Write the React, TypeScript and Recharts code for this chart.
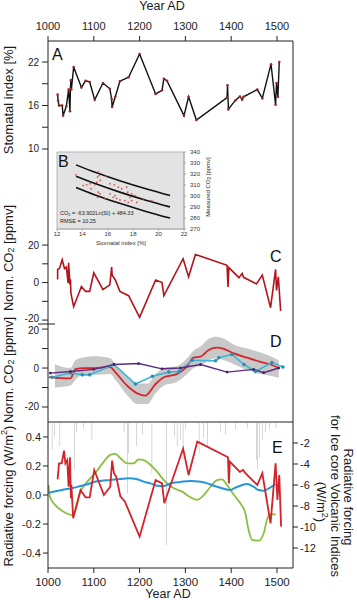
import {
  ComposedChart,
  Line,
  Area,
  Bar,
  Scatter,
  XAxis,
  YAxis,
  ReferenceArea,
} from "recharts";

// ---- shared x axis (years AD)
const YEARS: [number, number] = [1000, 1535];
const yearTicks = [1000, 1100, 1200, 1300, 1400, 1500];

// ---- panel A: stomatal index [%]
const stomatalIndex = [
  { year: 1021, si: 17.5 }, { year: 1022, si: 16.7 }, { year: 1024, si: 16.0 }, { year: 1031, si: 16.0 },
  { year: 1033, si: 14.6 }, { year: 1040, si: 15.9 }, { year: 1045, si: 18.2 }, { year: 1048, si: 15.2 },
  { year: 1049, si: 18.3 }, { year: 1050, si: 19.5 }, { year: 1051, si: 18.2 }, { year: 1056, si: 21.3 },
  { year: 1073, si: 18.5 }, { year: 1082, si: 19.4 }, { year: 1091, si: 19.25 }, { year: 1102, si: 16.8 },
  { year: 1120, si: 19.1 }, { year: 1135, si: 18.3 }, { year: 1139, si: 16.9 }, { year: 1140, si: 15.8 },
  { year: 1147, si: 17.2 }, { year: 1157, si: 19.35 }, { year: 1176, si: 19.9 }, { year: 1200, si: 23.1 },
  { year: 1235, si: 17.6 }, { year: 1249, si: 18.1 }, { year: 1253, si: 19.7 }, { year: 1260, si: 19.4 },
  { year: 1297, si: 14.6 }, { year: 1307, si: 17.2 }, { year: 1324, si: 14.0 }, { year: 1391, si: 17.1 },
  { year: 1392, si: 18.8 }, { year: 1394, si: 15.5 }, { year: 1409, si: 16.7 }, { year: 1419, si: 17.25 },
  { year: 1424, si: 16.8 }, { year: 1427, si: 17.2 }, { year: 1457, si: 18.2 }, { year: 1468, si: 17.0 },
  { year: 1487, si: 21.7 }, { year: 1497, si: 16.1 }, { year: 1499, si: 19.1 }, { year: 1502, si: 17.2 },
  { year: 1505, si: 22.0 },
];

// ---- panel B: calibration (stomatal index vs measured CO2)
const calibration = [
  { si: 13.47, co2: 319.5 }, { si: 15.25, co2: 321.9 }, { si: 15.33, co2: 318.8 }, { si: 15.2, co2: 317.3 },
  { si: 15.83, co2: 317.9 }, { si: 15.39, co2: 314.2 }, { si: 15.13, co2: 312.6 }, { si: 14.99, co2: 310.2 },
  { si: 14.34, co2: 310.2 }, { si: 14.07, co2: 309.6 }, { si: 14.6, co2: 311.2 }, { si: 14.68, co2: 306.6 },
  { si: 15.25, co2: 303.4 }, { si: 15.39, co2: 302.0 }, { si: 15.2, co2: 298.8 }, { si: 16.17, co2: 311.2 },
  { si: 16.51, co2: 310.2 }, { si: 16.83, co2: 308.0 }, { si: 17.09, co2: 306.6 }, { si: 17.49, co2: 308.0 },
  { si: 17.57, co2: 303.4 }, { si: 17.88, co2: 302.0 }, { si: 18.14, co2: 300.4 }, { si: 17.75, co2: 298.8 },
  { si: 16.17, co2: 302.0 }, { si: 16.43, co2: 298.8 }, { si: 16.7, co2: 297.9 }, { si: 16.96, co2: 296.4 },
  { si: 17.35, co2: 295.8 }, { si: 17.88, co2: 295.8 }, { si: 18.28, co2: 294.2 }, { si: 17.61, co2: 294.2 },
  { si: 19.46, co2: 295.8 }, { si: 18.8, co2: 297.4 }, { si: 16.57, co2: 300.4 }, { si: 15.78, co2: 297.4 },
];
const fitMid = [
  { si: 13.5, co2: 318.0 }, { si: 15, co2: 311.3 }, { si: 17, co2: 303.3 }, { si: 19, co2: 296.2 }, { si: 20.9, co2: 290.1 },
];
const fitUpper = [
  { si: 13.5, co2: 328.3 }, { si: 15, co2: 321.5 }, { si: 17, co2: 313.6 }, { si: 19, co2: 306.5 }, { si: 20.9, co2: 300.4 },
];
const fitLower = [
  { si: 13.5, co2: 307.8 }, { si: 15, co2: 301.0 }, { si: 17, co2: 293.1 }, { si: 19, co2: 286.0 }, { si: 20.9, co2: 279.9 },
];

// ---- panel C: normalised CO2 [ppmv]
const normCO2 = [
  { year: 1021, v: 1.7 }, { year: 1021, v: 7 }, { year: 1025, v: 7.5 }, { year: 1031, v: 12.2 },
  { year: 1036, v: 7.5 }, { year: 1040, v: 8.3 }, { year: 1044, v: -0.3 }, { year: 1045, v: 10.6 },
  { year: 1048, v: -1.2 }, { year: 1049, v: 1.7 }, { year: 1050, v: -5.6 }, { year: 1056, v: -12.9 },
  { year: 1073, v: -2.1 }, { year: 1082, v: -4.7 }, { year: 1091, v: -4.7 }, { year: 1100, v: 5.2 },
  { year: 1120, v: -3.8 }, { year: 1135, v: -1.2 }, { year: 1139, v: 8.3 }, { year: 1140, v: 4 },
  { year: 1147, v: 1.4 }, { year: 1157, v: -4.7 }, { year: 1176, v: -7 }, { year: 1200, v: -18.6 },
  { year: 1235, v: 1.4 }, { year: 1249, v: 0 }, { year: 1253, v: -7 }, { year: 1295, v: 12.7 },
  { year: 1307, v: 3.1 }, { year: 1322, v: 15 }, { year: 1391, v: 9.2 }, { year: 1393, v: -2.4 },
  { year: 1395, v: 8 }, { year: 1417, v: 2.6 }, { year: 1424, v: 4.9 }, { year: 1427, v: 2.8 },
  { year: 1455, v: -0.7 }, { year: 1468, v: 4 }, { year: 1486, v: -13.4 }, { year: 1497, v: 7 },
  { year: 1499, v: -4.2 }, { year: 1503, v: 3.1 }, { year: 1508, v: -15.1 },
];

// ---- panel D: smoothed CO2 with confidence band, plus two ice-core records
const smoothCO2 = [
  { year: 1002, v: -4.7 }, { year: 1030, v: -5.2 }, { year: 1049, v: -5.3 }, { year: 1060, v: -0.6 },
  { year: 1078, v: 0 }, { year: 1100, v: 0 }, { year: 1136, v: 0.5 }, { year: 1147, v: -2.1 },
  { year: 1173, v: -9.1 }, { year: 1195, v: -13 }, { year: 1212, v: -14.2 }, { year: 1235, v: -8.2 },
  { year: 1253, v: -4.7 }, { year: 1282, v: -3 }, { year: 1304, v: 1 }, { year: 1318, v: 5.3 },
  { year: 1333, v: 5.8 }, { year: 1351, v: 9.3 }, { year: 1369, v: 10.5 }, { year: 1384, v: 9.8 },
  { year: 1406, v: 7.5 }, { year: 1435, v: 5.3 }, { year: 1464, v: 3.2 }, { year: 1486, v: 1.8 },
  { year: 1504, v: 0 },
];
const smoothBand = [
  { year: 1015, band: [-10, 2] }, { year: 1049, band: [-9, 0] }, { year: 1060, band: [-6, 4] },
  { year: 1078, band: [-3.5, 5.5] }, { year: 1100, band: [-3.5, 6] }, { year: 1136, band: [-3, 5] },
  { year: 1147, band: [-6, 2] }, { year: 1173, band: [-14, -4] }, { year: 1195, band: [-18.5, -8] },
  { year: 1217, band: [-18.5, -8] }, { year: 1235, band: [-13, -3] }, { year: 1253, band: [-9, 0] },
  { year: 1282, band: [-7, 1] }, { year: 1304, band: [-3, 5] }, { year: 1318, band: [0, 9] },
  { year: 1333, band: [1, 11] }, { year: 1351, band: [4, 15] }, { year: 1369, band: [5, 16] },
  { year: 1384, band: [4, 15] }, { year: 1406, band: [2, 12] }, { year: 1435, band: [-1, 10] },
  { year: 1464, band: [-3, 8] }, { year: 1486, band: [-4, 6] }, { year: 1504, band: [-5, 4] },
];
const iceCoreCyan = [
  { year: 1009, v: -4.7 }, { year: 1049, v: -2.5 }, { year: 1075, v: -3.5 }, { year: 1091, v: -3.5 },
  { year: 1144, v: 1.8 }, { year: 1191, v: -8.2 }, { year: 1228, v: -4.2 }, { year: 1264, v: -2.1 },
  { year: 1286, v: -1.8 }, { year: 1315, v: 4 }, { year: 1366, v: 3.7 }, { year: 1373, v: 5.3 },
  { year: 1402, v: 7 }, { year: 1428, v: 1.8 }, { year: 1453, v: -1.8 }, { year: 1489, v: 2.8 },
  { year: 1513, v: 0.5 },
];
const iceCorePurple = [
  { year: 1005, v: -2.6 }, { year: 1049, v: -1.8 }, { year: 1100, v: -0.7 }, { year: 1144, v: 1.8 },
  { year: 1198, v: 2.3 }, { year: 1249, v: -0.4 }, { year: 1289, v: 0 }, { year: 1333, v: 1.8 },
  { year: 1391, v: -2.1 }, { year: 1449, v: -0.7 }, { year: 1471, v: -2.4 }, { year: 1504, v: 0 },
];

// ---- panel E: radiative forcing (W/m2)
const co2Forcing = [
  { year: 1021, v: 0.108 }, { year: 1024, v: 0.218 }, { year: 1030, v: 0.218 }, { year: 1035, v: 0.306 },
  { year: 1038, v: 0.218 }, { year: 1042, v: 0.24 }, { year: 1045, v: 0.057 }, { year: 1048, v: 0.26 },
  { year: 1050, v: -0.023 }, { year: 1051, v: 0.07 }, { year: 1055, v: -0.16 }, { year: 1071, v: 0.034 },
  { year: 1082, v: -0.016 }, { year: 1091, v: -0.016 }, { year: 1101, v: 0.172 }, { year: 1122, v: 0 },
  { year: 1136, v: 0.057 }, { year: 1140, v: 0.237 }, { year: 1144, v: 0.15 }, { year: 1149, v: 0.126 },
  { year: 1158, v: -0.01 }, { year: 1168, v: -0.046 }, { year: 1200, v: -0.287 }, { year: 1235, v: 0.103 },
  { year: 1249, v: 0.08 }, { year: 1254, v: -0.057 }, { year: 1295, v: 0.32 }, { year: 1307, v: 0.138 },
  { year: 1326, v: 0.368 }, { year: 1393, v: 0.26 }, { year: 1395, v: 0.08 }, { year: 1397, v: 0.23 },
  { year: 1419, v: 0.16 }, { year: 1426, v: 0.172 }, { year: 1431, v: 0.15 }, { year: 1457, v: 0.069 },
  { year: 1468, v: 0.15 }, { year: 1486, v: -0.195 }, { year: 1497, v: 0.218 }, { year: 1501, v: -0.034 },
  { year: 1505, v: 0.138 }, { year: 1509, v: -0.218 },
];
const solarForcing = [
  { year: 1001, v: 0.07 }, { year: 1004, v: -0.01 }, { year: 1016, v: -0.07 }, { year: 1034, v: -0.115 },
  { year: 1053, v: -0.138 }, { year: 1060, v: -0.103 }, { year: 1071, v: 0.023 }, { year: 1086, v: 0.092 },
  { year: 1104, v: 0.154 }, { year: 1122, v: 0.23 }, { year: 1136, v: 0.276 }, { year: 1147, v: 0.283 },
  { year: 1158, v: 0.253 }, { year: 1173, v: 0.218 }, { year: 1187, v: 0.218 }, { year: 1198, v: 0.246 },
  { year: 1209, v: 0.241 }, { year: 1224, v: 0.207 }, { year: 1238, v: 0.161 }, { year: 1253, v: 0.103 },
  { year: 1264, v: 0.069 }, { year: 1275, v: 0.046 }, { year: 1293, v: 0.023 }, { year: 1311, v: -0.016 },
  { year: 1326, v: -0.034 }, { year: 1337, v: -0.011 }, { year: 1355, v: 0.057 }, { year: 1369, v: 0.103 },
  { year: 1380, v: 0.108 }, { year: 1391, v: 0.069 }, { year: 1406, v: 0 }, { year: 1420, v: -0.057 },
  { year: 1431, v: -0.126 }, { year: 1438, v: -0.241 }, { year: 1446, v: -0.31 }, { year: 1460, v: -0.315 },
  { year: 1471, v: -0.264 }, { year: 1478, v: -0.172 }, { year: 1484, v: -0.133 }, { year: 1497, v: -0.133 },
];
const otherForcing = [
  { year: 1001, v: 0.016 }, { year: 1019, v: 0.028 }, { year: 1041, v: 0.041 }, { year: 1056, v: 0.05 },
  { year: 1071, v: 0.062 }, { year: 1086, v: 0.074 }, { year: 1100, v: 0.09 }, { year: 1115, v: 0.097 },
  { year: 1136, v: 0.103 }, { year: 1158, v: 0.11 }, { year: 1176, v: 0.115 }, { year: 1195, v: 0.108 },
  { year: 1209, v: 0.092 }, { year: 1224, v: 0.08 }, { year: 1238, v: 0.064 }, { year: 1253, v: 0.062 },
  { year: 1267, v: 0.08 }, { year: 1289, v: 0.09 }, { year: 1311, v: 0.097 }, { year: 1333, v: 0.092 },
  { year: 1348, v: 0.08 }, { year: 1362, v: 0.064 }, { year: 1380, v: 0.046 }, { year: 1398, v: 0.034 },
  { year: 1406, v: 0.046 }, { year: 1420, v: 0.064 }, { year: 1435, v: 0.076 }, { year: 1449, v: 0.057 },
  { year: 1460, v: 0.034 }, { year: 1471, v: 0.03 }, { year: 1486, v: 0.053 }, { year: 1497, v: 0.074 },
];
// volcanic indices, right axis (W/m2), hanging from the top
const volcanic = [
  { year: 1009, f: -2.6 }, { year: 1014, f: -1.4 }, { year: 1026, f: -2.3 }, { year: 1058, f: -4.5 },
  { year: 1063, f: -1 }, { year: 1078, f: -0.6 }, { year: 1096, f: -1.7 }, { year: 1166, f: -1 },
  { year: 1173, f: -6.8 }, { year: 1176, f: -3 }, { year: 1193, f: -2.3 }, { year: 1206, f: -1.2 },
  { year: 1227, f: -4.9 }, { year: 1259, f: -11.7 }, { year: 1276, f: -1.4 }, { year: 1282, f: -2.3 },
  { year: 1289, f: -1.7 }, { year: 1295, f: -3.6 }, { year: 1300, f: -0.7 }, { year: 1330, f: -3 },
  { year: 1340, f: -1.5 }, { year: 1348, f: -2.3 }, { year: 1377, f: -0.9 }, { year: 1388, f: -1.2 },
  { year: 1410, f: -0.7 }, { year: 1435, f: -0.6 }, { year: 1455, f: -3.6 }, { year: 1458, f: -4.5 },
  { year: 1462, f: -3.4 }, { year: 1468, f: -1.7 }, { year: 1475, f: -1 }, { year: 1484, f: -0.7 },
  { year: 1498, f: -0.6 },
];

const INK = "#222";
const W = 357;
const LEFT = 48; // plot starts at x=48
const RIGHT = 64; // plot ends at x=293

// left tick label; labels listed in `shown` are drawn, `nudge` moves one of them
function LeftTick({ x, y, payload, shown, nudge = {} }: any) {
  const v = payload.value;
  if (!shown.includes(v)) return null;
  return (
    <text x={x} y={y + (nudge[v] ?? 0)} fontSize={10} fill={INK} textAnchor="end" dominantBaseline="central">
      {v}
    </text>
  );
}

function Rot({ x, y, angle, size = 13, children }: any) {
  return (
    <text
      x={x}
      y={y}
      fontSize={size}
      fill="#1a1a1a"
      textAnchor="middle"
      dominantBaseline="central"
      transform={`rotate(${angle} ${x} ${y})`}
    >
      {children}
    </text>
  );
}

function Box({ top, height, children }: any) {
  return <div style={{ position: "absolute", left: 0, top, width: W, height }}>{children}</div>;
}

const sideAxis = (id: string) => (
  <YAxis yAxisId={id} orientation="right" width={RIGHT} domain={[0, 1]} tick={false} tickLine={false} stroke={INK} />
);

export default function App() {
  return (
    <div
      style={{
        position: "absolute",
        left: 0,
        top: 0,
        width: W,
        height: 600,
        background: "#fff",
        fontFamily: "'Liberation Sans', Arial, sans-serif",
      }}
    >
      {/* A */}
      <Box top={0} height={156}>
        <ComposedChart width={W} height={156} margin={{ top: 0, right: 0, bottom: 6, left: 0 }}>
          <XAxis
            type="number"
            dataKey="year"
            orientation="top"
            domain={YEARS}
            ticks={yearTicks}
            interval={0}
            height={41}
            allowDataOverflow
            stroke={INK}
            tickSize={5}
            tickMargin={6}
            tick={{ fontSize: 11, fill: INK }}
          />
          <YAxis
            yAxisId="l"
            width={LEFT}
            domain={[9.86, 24.9]}
            ticks={[10, 13, 16, 19, 22]}
            interval={0}
            allowDataOverflow
            stroke={INK}
            tickSize={6}
            tickMargin={3}
            tick={<LeftTick shown={[10, 16, 22]} />}
          />
          {sideAxis("r")}
          <Line
            yAxisId="l"
            data={stomatalIndex}
            dataKey="si"
            stroke="#111"
            strokeWidth={1.4}
            dot={{ r: 1.3, fill: "#9b2a2a", stroke: "none" }}
            isAnimationActive={false}
          />
        </ComposedChart>
      </Box>

      {/* C */}
      <Box top={150} height={178}>
        <ComposedChart width={W} height={178} margin={{ top: 0, right: 0, bottom: 4, left: 0 }}>
          <XAxis type="number" dataKey="year" domain={YEARS} allowDataOverflow hide />
          <YAxis
            yAxisId="l"
            width={LEFT}
            domain={[-22.1, 70.7]}
            ticks={[-20, -10, 0, 10, 20]}
            interval={0}
            allowDataOverflow
            stroke={INK}
            tickSize={6}
            tickMargin={3}
            tick={<LeftTick shown={[-20, 0, 20]} nudge={{ [-20]: -1.5 }} />}
          />
          {sideAxis("r")}
          <Line
            yAxisId="l"
            data={normCO2}
            dataKey="v"
            stroke="#b3141c"
            strokeWidth={1.6}
            dot={false}
            isAnimationActive={false}
          />
        </ComposedChart>
      </Box>

      {/* B inset */}
      <Box top={140} height={110}>
        <ComposedChart width={W} height={110} margin={{ top: 12, right: 143, bottom: 1, left: 57 }}>
          <XAxis
            type="number"
            dataKey="si"
            domain={[12, 22]}
            ticks={[12, 14, 16, 18, 20, 22]}
            interval={0}
            height={20}
            stroke="#aaa"
            tickSize={2}
            tickMargin={1}
            tick={{ fontSize: 6, fill: "#333" }}
          />
          <YAxis
            orientation="right"
            width={30}
            domain={[270, 340]}
            ticks={[270, 280, 290, 300, 310, 320, 330, 340]}
            interval={0}
            stroke="#aaa"
            tickSize={2}
            tickMargin={4}
            tick={{ fontSize: 6, fill: "#333" }}
          />
          <ReferenceArea x1={12} x2={22} y1={270} y2={340} fill="#e3e3e3" fillOpacity={1} stroke="#b5b5b5" />
          <Scatter
            data={calibration}
            dataKey="co2"
            isAnimationActive={false}
            shape={(p: any) => <circle cx={p.cx} cy={p.cy} r={0.9} fill="#d9534f" />}
          />
          <Line data={fitUpper} dataKey="co2" type="monotone" stroke="#111" strokeWidth={1.6} dot={false} isAnimationActive={false} />
          <Line data={fitMid} dataKey="co2" type="monotone" stroke="#111" strokeWidth={1.6} dot={false} isAnimationActive={false} />
          <Line data={fitLower} dataKey="co2" type="monotone" stroke="#111" strokeWidth={1.6} dot={false} isAnimationActive={false} />
        </ComposedChart>
      </Box>

      {/* D */}
      <Box top={324} height={99}>
        <ComposedChart width={W} height={99} margin={{ top: 0, right: 0, bottom: 0, left: 0 }}>
          <XAxis
            type="number"
            dataKey="year"
            domain={YEARS}
            allowDataOverflow
            height={1}
            tick={false}
            tickLine={false}
            stroke={INK}
          />
          <YAxis
            yAxisId="l"
            width={LEFT}
            domain={[-27.7, 22.6]}
            ticks={[-20, -10, 0, 10, 20]}
            interval={0}
            allowDataOverflow
            stroke={INK}
            tickSize={6}
            tickMargin={3}
            tick={<LeftTick shown={[-20, 0, 20]} nudge={{ 20: 1.5 }} />}
          />
          {sideAxis("r")}
          <Area
            yAxisId="l"
            data={smoothBand}
            dataKey="band"
            type="monotone"
            fill="#c8c8c8"
            fillOpacity={1}
            stroke="none"
            isAnimationActive={false}
          />
          <Line yAxisId="l" data={smoothCO2} dataKey="v" type="monotone" stroke="#d4262c" strokeWidth={1.8} dot={false} isAnimationActive={false} />
          <Line
            yAxisId="l"
            data={iceCoreCyan}
            dataKey="v"
            stroke="#3db6d6"
            strokeWidth={1.6}
            dot={{ r: 1.8, fill: "#2a8fb3", stroke: "none" }}
            isAnimationActive={false}
          />
          <Line
            yAxisId="l"
            data={iceCorePurple}
            dataKey="v"
            stroke="#5e2a80"
            strokeWidth={1.4}
            dot={{ r: 1.4, fill: "#4a1f68", stroke: "none" }}
            isAnimationActive={false}
          />
        </ComposedChart>
      </Box>

      {/* E */}
      <Box top={422} height={178}>
        <ComposedChart data={volcanic} width={W} height={178} margin={{ top: 0, right: 0, bottom: 0, left: 0 }}>
          <XAxis
            type="number"
            dataKey="year"
            domain={YEARS}
            ticks={yearTicks}
            interval={0}
            allowDataOverflow
            height={32}
            stroke={INK}
            tickSize={5}
            tickMargin={5}
            tick={{ fontSize: 11.5, fill: INK }}
          />
          <YAxis
            yAxisId="l"
            width={LEFT}
            domain={[-0.503, 0.503]}
            ticks={[-0.4, -0.2, 0, 0.2, 0.4]}
            interval={0}
            tickFormatter={(v: number) => v.toFixed(1)}
            allowDataOverflow
            stroke={INK}
            tickSize={5}
            tickMargin={2}
            tick={{ fontSize: 11, fill: INK }}
          />
          <YAxis
            yAxisId="r"
            orientation="right"
            width={RIGHT}
            domain={[-13.9, 0]}
            ticks={[-12, -10, -8, -6, -4, -2]}
            interval={0}
            allowDataOverflow
            stroke={INK}
            tickSize={5}
            tickMargin={2}
            tick={{ fontSize: 11, fill: INK }}
          />
          <Bar yAxisId="r" dataKey="f" barSize={1} fill="#9c9c9c" isAnimationActive={false} />
          <Line yAxisId="l" data={solarForcing} dataKey="v" type="monotone" stroke="#8cbf3f" strokeWidth={1.8} dot={false} isAnimationActive={false} />
          <Line yAxisId="l" data={otherForcing} dataKey="v" type="monotone" stroke="#2596d8" strokeWidth={2} dot={false} isAnimationActive={false} />
          <Line yAxisId="l" data={co2Forcing} dataKey="v" stroke="#d3222a" strokeWidth={1.8} dot={false} isAnimationActive={false} />
        </ComposedChart>
      </Box>

      {/* titles, panel letters, inset text */}
      <svg width={W} height={600} style={{ position: "absolute", left: 0, top: 0, pointerEvents: "none" }}>
        <text x={162} y={10} fontSize={12.5} textAnchor="middle" fill="#1a1a1a">Year AD</text>
        <text x={168} y={598} fontSize={12.5} textAnchor="middle" fill="#1a1a1a">Year AD</text>

        <Rot x={8} y={100} angle={-90}>Stomatal index [%]</Rot>
        <Rot x={8} y={258} angle={-90}>
          Norm. CO<tspan fontSize={9} dy={3}>2</tspan><tspan dy={-3}> [ppmv]</tspan>
        </Rot>
        <Rot x={8} y={370} angle={-90}>
          Norm. CO<tspan fontSize={9} dy={3}>2</tspan><tspan dy={-3}> [ppmv]</tspan>
        </Rot>
        <Rot x={8} y={496} angle={-90}>
          Radiative forcing (W/m<tspan fontSize={9} dy={-4}>2</tspan><tspan dy={4}>)</tspan>
        </Rot>

        <Rot x={348} y={497} angle={90}>Radiative forcing</Rot>
        <Rot x={335} y={496} angle={90}>for Ice core Volcanic Indices</Rot>
        <Rot x={321} y={502} angle={90}>
          (W/m<tspan fontSize={9} dy={-4}>2</tspan><tspan dy={4}>)</tspan>
        </Rot>

        <text x={52} y={60} fontSize={16} fill="#111">A</text>
        <text x={58} y={167} fontSize={16} fill="#111">B</text>
        <text x={270} y={262} fontSize={16} fill="#111">C</text>
        <text x={270} y={347} fontSize={16} fill="#111">D</text>
        <text x={272} y={453} fontSize={16} fill="#111">E</text>

        <text x={60} y={215} fontSize={5.5} fill="#222">
          CO<tspan fontSize={4} dy={1}>2</tspan><tspan dy={-1}> = -63.902Ln(SI) + 484.33</tspan>
        </text>
        <text x={60} y={222.5} fontSize={5.5} fill="#222">RMSE = 10.25</text>
        <text x={121} y={245} fontSize={6} textAnchor="middle" fill="#333">Stomatal index [%]</text>
        <Rot x={208} y={187} angle={-90} size={6}>
          Measured CO<tspan fontSize={4.5} dy={1}>2</tspan><tspan dy={-1}> [ppmv]</tspan>
        </Rot>

        <line x1={38} x2={55} y1={324} y2={324} stroke={INK} strokeWidth={1} />
      </svg>
    </div>
  );
}
